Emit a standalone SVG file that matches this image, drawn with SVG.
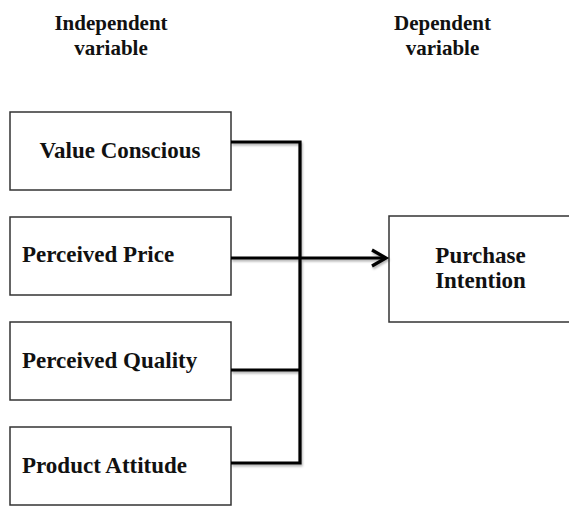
<svg xmlns="http://www.w3.org/2000/svg" width="569" height="506" viewBox="0 0 569 506">
<defs>
<style>
.box{fill:#fff;stroke:#333;stroke-width:1.5}
.t{font-family:"Liberation Serif","Times New Roman",serif;font-weight:bold;fill:#111}
.h{font-size:21px;text-anchor:middle}
.b{font-size:23px}
.c{fill:none;stroke:#000;stroke-width:3.2;stroke-linejoin:miter}
</style>
<filter id="sh" x="-10%" y="-10%" width="120%" height="120%">
<feDropShadow dx="1" dy="2" stdDeviation="1.2" flood-color="#000" flood-opacity="0.3"/>
</filter>
</defs>
<rect width="569" height="506" fill="#fff"/>
<text class="t h" x="111" y="30">Independent</text>
<text class="t h" x="111" y="55">variable</text>
<text class="t h" x="442.5" y="30">Dependent</text>
<text class="t h" x="442.5" y="55">variable</text>
<g id="n1"><rect class="box" x="10" y="112" width="221" height="78"/><text class="t b" x="120" y="158" text-anchor="middle">Value Conscious</text></g>
<g id="n2"><rect class="box" x="10" y="217" width="221" height="78"/><text class="t b" x="22" y="262">Perceived Price</text></g>
<g id="n3"><rect class="box" x="10" y="322" width="221" height="78"/><text class="t b" x="22" y="368">Perceived Quality</text></g>
<g id="n4"><rect class="box" x="10" y="427" width="221" height="78"/><text class="t b" x="22" y="473">Product Attitude</text></g>
<g id="n5"><rect class="box" x="389" y="216" width="184" height="106"/><text class="t b" x="480.5" y="263" text-anchor="middle">Purchase</text><text class="t b" x="480.5" y="288" text-anchor="middle">Intention</text></g>
<g id="connectors" filter="url(#sh)">
<path class="c" d="M231 142 H300 V463 H231"/>
<path class="c" d="M231 370 H300"/>
<path class="c" d="M231 258 H385"/>
<path class="c" d="M372 250 L386 258 L372 266"/>
</g>
</svg>
